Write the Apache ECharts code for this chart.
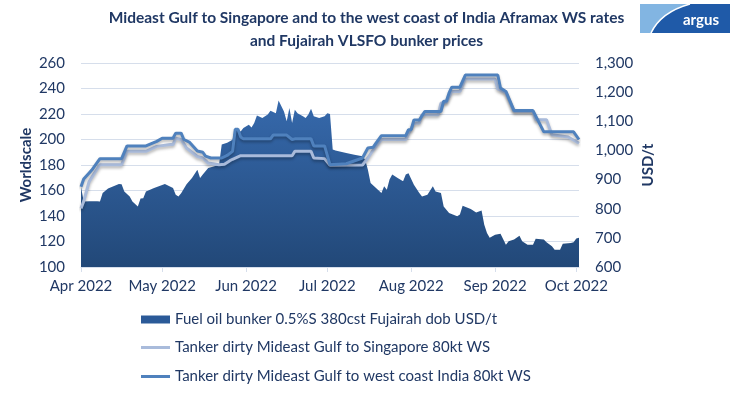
<!DOCTYPE html>
<html>
<head>
<meta charset="utf-8">
<script src="https://cdn.jsdelivr.net/npm/echarts@6/dist/echarts.min.js"></script>
<style>
  html, body { margin: 0; padding: 0; background: #fff; }
  #chart { width: 733px; height: 397px; }
</style>
</head>
<body>
<div id="chart"></div>
<script>
// Fujairah VLSFO bunker, USD/t (right axis)
var bunkerDates = ['2022-04-01','2022-04-02','2022-04-04','2022-04-07','2022-04-08','2022-04-09','2022-04-11','2022-04-13','2022-04-15','2022-04-16',
  '2022-04-17','2022-04-19','2022-04-20','2022-04-22','2022-04-23','2022-04-24','2022-04-25','2022-04-28','2022-05-02','2022-05-05',
  '2022-05-06','2022-05-07','2022-05-08','2022-05-10','2022-05-12','2022-05-14','2022-05-15','2022-05-16','2022-05-18','2022-05-20',
  '2022-05-22','2022-05-23','2022-05-25','2022-05-27','2022-05-28','2022-05-30','2022-05-31','2022-06-02','2022-06-03','2022-06-04',
  '2022-06-05','2022-06-07','2022-06-09','2022-06-10','2022-06-12','2022-06-13','2022-06-15','2022-06-16','2022-06-17','2022-06-18',
  '2022-06-19','2022-06-20','2022-06-22','2022-06-23','2022-06-24','2022-06-25','2022-06-26','2022-06-28','2022-06-30','2022-07-01',
  '2022-07-02','2022-07-03','2022-07-04','2022-07-08','2022-07-11','2022-07-14','2022-07-15','2022-07-16','2022-07-17','2022-07-19',
  '2022-07-21','2022-07-22','2022-07-23','2022-07-24','2022-07-25','2022-07-27','2022-07-29','2022-07-30','2022-07-31','2022-08-02',
  '2022-08-04','2022-08-05','2022-08-07','2022-08-09','2022-08-10','2022-08-12','2022-08-13','2022-08-15','2022-08-18','2022-08-19',
  '2022-08-20','2022-08-23','2022-08-25','2022-08-27','2022-08-28','2022-08-29','2022-08-30','2022-09-01','2022-09-03','2022-09-05',
  '2022-09-06','2022-09-08','2022-09-10','2022-09-11','2022-09-13','2022-09-15','2022-09-16','2022-09-19','2022-09-20','2022-09-22',
  '2022-09-23','2022-09-25','2022-09-26','2022-09-29','2022-09-30','2022-10-01','2022-10-02'];
var bunkerUsd = [875,825,826,826,825,854,869,877,885,884,
  859,842,825,808,835,836,859,871,885,871,
  848,842,853,884,905,934,905,917,940,945,
  951,1020,1026,1037,1077,1065,1077,1088,1079,1094,
  1120,1111,1123,1136,1128,1171,1134,1100,1146,1094,
  1140,1128,1117,1111,1123,1143,1117,1111,1117,1128,
  1125,1003,1000,991,985,980,968,934,888,871,
  854,877,865,900,917,905,894,917,922,882,
  854,842,848,877,859,854,808,785,774,780,
  810,799,787,794,745,717,700,711,714,676,
  688,694,707,688,676,676,697,694,685,671,
  659,659,680,682,685,698,700];

// Mideast Gulf to Singapore 80kt, WS (left axis)
var sgDates = ['2022-04-01','2022-04-02','2022-04-04','2022-04-06','2022-04-08','2022-04-16','2022-04-18','2022-04-25','2022-04-29','2022-05-04',
  '2022-05-05','2022-05-06','2022-05-08','2022-05-10','2022-05-14','2022-05-16','2022-05-18','2022-05-22','2022-05-24','2022-05-26',
  '2022-05-27','2022-05-30','2022-06-18','2022-06-19','2022-06-25','2022-06-26','2022-06-30','2022-07-02','2022-07-14','2022-07-16',
  '2022-07-18','2022-07-21','2022-07-30','2022-07-31','2022-08-02','2022-08-04','2022-08-05','2022-08-11','2022-08-12','2022-08-14',
  '2022-08-16','2022-08-19','2022-08-21','2022-09-01','2022-09-02','2022-09-05','2022-09-08','2022-09-15','2022-09-16','2022-09-20',
  '2022-09-22','2022-09-28','2022-10-02'];
var sgWs = [146,151.5,167,173.7,180.2,180.2,190.7,190.7,194.6,196,
  196,201,200,193.3,186.7,185.5,181.5,180.2,180.5,183.4,
  184.5,187.3,187.3,190.7,190.7,185.5,185,179.8,180,185.5,
  192,200,200,204.5,212.5,213,219.5,219.5,228.6,229,
  237.7,237.7,247.5,247.5,239.6,236.5,222,222,215.5,215.5,
  203.8,202,197];

// Mideast Gulf to west coast India 80kt, WS (left axis)
var indiaDates = ['2022-04-01','2022-04-02','2022-04-05','2022-04-08','2022-04-16','2022-04-18','2022-04-25','2022-04-29','2022-05-01','2022-05-05',
  '2022-05-06','2022-05-08','2022-05-09','2022-05-11','2022-05-14','2022-05-16','2022-05-17','2022-05-19','2022-05-23','2022-05-25',
  '2022-05-27','2022-05-28','2022-05-29','2022-05-30','2022-05-31','2022-06-10','2022-06-11','2022-06-16','2022-06-18','2022-06-19',
  '2022-06-25','2022-06-26','2022-06-30','2022-07-02','2022-07-08','2022-07-14','2022-07-16','2022-07-18','2022-07-19','2022-07-21',
  '2022-07-30','2022-07-31','2022-08-01','2022-08-02','2022-08-04','2022-08-06','2022-08-12','2022-08-13','2022-08-14','2022-08-15',
  '2022-08-16','2022-08-19','2022-08-21','2022-09-02','2022-09-03','2022-09-05','2022-09-08','2022-09-15','2022-09-19','2022-09-30',
  '2022-10-02'];
var indiaWs = [163,169,176,185,185,195,195,198.5,201,201,
  205,205,200,198,191,190,187,185.5,185.5,187.5,
  190.7,208,208,202,200.5,200.5,203.5,203.5,200,200.5,
  200.5,195,195,180.2,181,185.5,193.3,194,197.2,203,
  203,207.7,207.7,215.3,215.3,222,222,230,230,236.5,
  241,241,250.5,250.5,240.4,237.7,222.7,222.7,206,206,
  200];

var monthTicks = ['2022-04-01','2022-05-01','2022-06-01','2022-07-01','2022-08-01','2022-09-01','2022-10-01'];
var monthNames = ['Jan','Feb','Mar','Apr','May','Jun','Jul','Aug','Sep','Oct','Nov','Dec'];

var legendNames = ['Fuel oil bunker 0.5%S 380cst Fujairah dob USD/t',
  'Tanker dirty Mideast Gulf to Singapore 80kt WS',
  'Tanker dirty Mideast Gulf to west coast India 80kt WS'];

function ts(d) {
  var p = d.split('-')
  return Date.UTC(+p[0], +p[1] - 1, +p[2])
}
function pairs(dates, vals) {
  return dates.map(function (d, i) { return [ts(d), vals[i]] })
}

var navy = '#203864'
var gridColor = '#D6DEEB'
var font = 'Lato'
var tickTimes = monthTicks.map(ts)
var lineShadow = { shadowColor: 'rgba(0,0,0,0.3)', shadowBlur: 3, shadowOffsetY: 2 }

function legendRow(name, top, h) {
  return {
    data: [{ name: name, icon: 'rect' }],
    orient: 'vertical', left: 141, top: top, padding: 0,
    itemWidth: 29, itemHeight: h,
    textStyle: { color: navy, fontSize: 15, fontFamily: font }
  }
}

var chart = echarts.init(document.getElementById('chart'), null, { renderer: 'canvas' })

chart.setOption({
  animation: false,
  textStyle: { fontFamily: font },
  title: {
    text: 'Mideast Gulf to Singapore and to the west coast of India Aframax WS rates\nand Fujairah VLSFO bunker prices',
    left: 'center',
    top: 1,
    textStyle: { color: navy, fontSize: 15.5, fontWeight: 'bold', fontFamily: font, lineHeight: 23 }
  },
  grid: { left: 81, right: 154, top: 63, bottom: 130 },
  legend: [
    legendRow(legendNames[0], 312, 8),
    legendRow(legendNames[1], 340, 3),
    legendRow(legendNames[2], 369, 3)
  ],
  xAxis: {
    type: 'value',
    min: ts('2022-04-01'),
    max: ts('2022-10-02'),
    axisLine: { show: true, lineStyle: { color: gridColor } },
    axisTick: { show: true, length: 5, lineStyle: { color: gridColor }, customValues: tickTimes },
    axisLabel: {
      customValues: tickTimes,
      color: navy, fontSize: 15, fontFamily: font, margin: 12,
      formatter: function (v) {
        var d = new Date(v)
        return monthNames[d.getUTCMonth()] + ' ' + d.getUTCFullYear()
      }
    },
    splitLine: { show: false }
  },
  yAxis: [
    {
      type: 'value', min: 100, max: 260, interval: 20,
      name: 'Worldscale', nameLocation: 'middle', nameGap: 47, nameRotate: 90,
      nameMoveOverlap: false,
      nameTextStyle: { color: navy, fontSize: 15, fontWeight: 'bold', fontFamily: font },
      axisLine: { show: false }, axisTick: { show: false },
      axisLabel: { color: navy, fontSize: 15, fontFamily: font, margin: 16 },
      splitLine: { lineStyle: { color: gridColor } }
    },
    {
      type: 'value', min: 600, max: 1300, interval: 100,
      name: 'USD/t', nameLocation: 'middle', nameGap: 62, nameRotate: 90,
      nameMoveOverlap: false,
      nameTextStyle: { color: navy, fontSize: 15, fontWeight: 'bold', fontFamily: font },
      axisLine: { show: false }, axisTick: { show: false },
      axisLabel: {
        color: navy, fontSize: 15, fontFamily: font, margin: 16,
        formatter: function (v) { return v.toLocaleString('en-US') }
      },
      splitLine: { show: false }
    }
  ],
  series: [
    {
      name: legendNames[0],
      type: 'line',
      yAxisIndex: 1,
      data: pairs(bunkerDates, bunkerUsd),
      symbol: 'none',
      lineStyle: { width: 0 },
      itemStyle: { color: '#2B5A98' },
      areaStyle: {
        origin: 'start',
        opacity: 1,
        color: new echarts.graphic.LinearGradient(0, 0, 0, 1, [
          { offset: 0, color: '#3669AC' },
          { offset: 1, color: '#224878' }
        ])
      },
      z: 1
    },
    {
      name: legendNames[1],
      type: 'line',
      data: pairs(sgDates, sgWs),
      symbol: 'none',
      itemStyle: { color: '#A9BBDB' },
      lineStyle: Object.assign({ width: 3, color: '#A9BBDB' }, lineShadow),
      z: 2
    },
    {
      name: legendNames[2],
      type: 'line',
      data: pairs(indiaDates, indiaWs),
      symbol: 'none',
      itemStyle: { color: '#4F81BD' },
      lineStyle: Object.assign({ width: 3, color: '#4F81BD' }, lineShadow),
      z: 3
    }
  ],
  graphic: [
    {
      type: 'group',
      x: 640, y: 4,
      children: [
        { type: 'rect', shape: { x: 0, y: 0, width: 90, height: 29 }, style: { fill: '#1F5AA8' } },
        { type: 'polygon', shape: { points: [[0, 0], [50, 0], [36, 4.8], [25.5, 11.2], [17, 19.3], [11, 29], [0, 29]] }, style: { fill: '#82B5E2' } },
        { type: 'bezierCurve', shape: { x1: 50, y1: 0, cpx1: 21, cpy1: 8, x2: 11, y2: 29 }, style: { fill: null, stroke: '#fff', lineWidth: 1.5 } },
        { type: 'text', x: 61, y: 16, style: { text: 'argus', fill: '#fff', font: 'bold 15px Lato', align: 'center', verticalAlign: 'middle' } }
      ]
    }
  ]
})
</script>
</body>
</html>
